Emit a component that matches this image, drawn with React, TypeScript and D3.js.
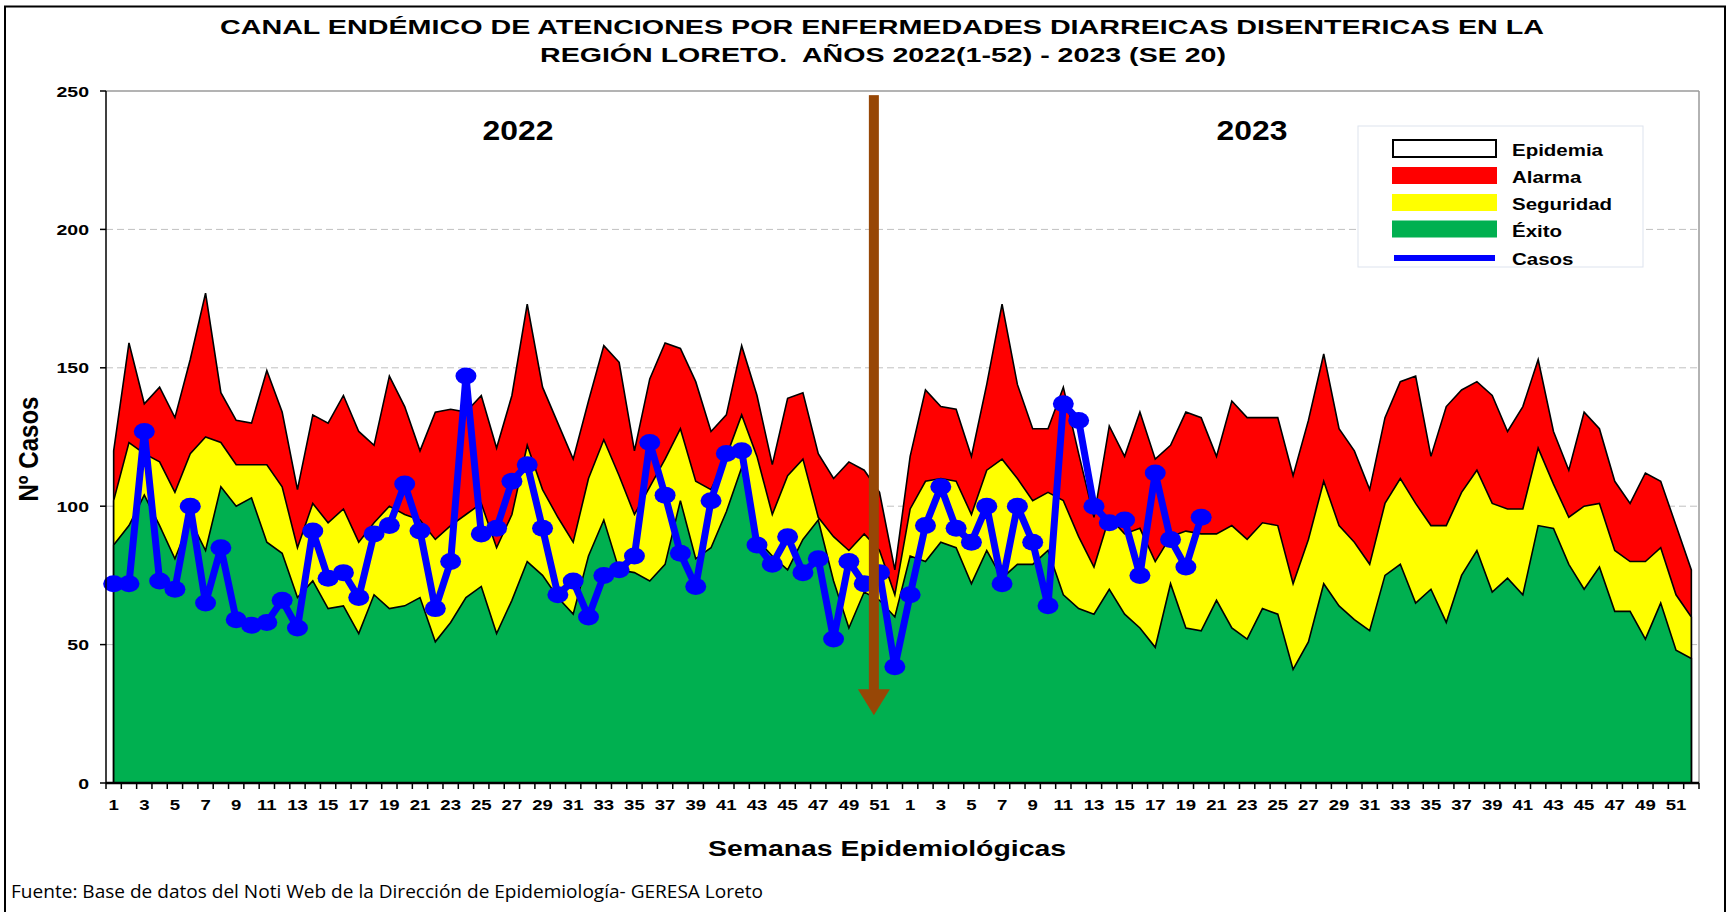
import React from 'react';
import * as d3 from 'd3';

const years = ['2022', '2023'];
const weeks = Array.from({ length: 52 }, (_, i) => i + 1);
const categories = years.flatMap((yr) => weeks.map((w) => `${yr}-${w}`));
const weekOfCategory = years.flatMap(() => weeks);

const alarma = [
  120, 159, 137, 143, 132, 153, 177, 141, 131, 130, 149, 134, 106, 133, 130, 140, 127, 122, 147, 136,
  120, 134, 135, 134, 140, 121, 140, 173, 143, 130, 117, 138, 158, 152, 120, 146, 159, 157, 145, 127,
  133, 158, 140, 115, 139, 141, 119, 110, 116, 113, 105, 77,
  118, 142, 136, 135, 118, 144, 173, 144, 128, 128, 143, 119, 96, 129, 118, 134, 117, 122,
  134, 132, 118, 138, 132, 132, 132, 111, 131, 155, 128, 120, 106, 132, 145, 147, 118, 136, 142, 145,
  140, 127, 136, 153, 127, 113, 134, 128, 109, 101, 112, 109, 93, 77,
];
const seguridad = [
  102, 123, 119, 116, 105, 119, 125, 123, 115, 115, 115, 107, 85, 101, 94, 99, 87, 94, 100, 97,
  95, 88, 93, 97, 101, 85, 97, 122, 106, 96, 87, 110, 124, 111, 97, 107, 117, 128, 109, 106,
  118, 133, 118, 97, 111, 117, 96, 89, 84, 90, 84, 68,
  99, 109, 110, 109, 97, 113, 117, 110, 102, 105, 102, 89, 78, 96, 90, 92, 80, 89,
  91, 90, 90, 93, 88, 94, 93, 72, 88, 109, 93, 87, 79, 101, 110, 101, 93, 93, 105, 113,
  101, 99, 99, 121, 108, 96, 100, 101, 84, 80, 80, 85, 68, 60,
];
const exito = [
  86, 93, 104, 93, 81, 95, 84, 107, 100, 103, 87, 83, 67, 73, 63, 64, 54, 68, 63, 64,
  67, 51, 58, 67, 71, 54, 66, 80, 75, 67, 61, 82, 95, 77, 76, 73, 79, 102, 81, 85,
  98, 114, 88, 82, 77, 88, 95, 73, 56, 69, 66, 60,
  82, 80, 87, 85, 72, 84, 74, 79, 79, 84, 68, 63, 61, 70, 61, 56, 49, 72,
  56, 55, 66, 56, 52, 63, 61, 41, 51, 72, 64, 59, 55, 75, 79, 65, 70, 58, 75, 84,
  69, 74, 68, 93, 92, 79, 70, 78, 62, 62, 52, 65, 48, 45,
];
const casos = [
  72, 72, 127, 73, 70, 100, 65, 85, 59, 57, 58, 66, 56, 91, 74, 76, 67, 90, 93, 108,
  91, 63, 80, 147, 90, 92, 109, 115, 92, 68, 73, 60, 75, 77, 82, 123, 104, 83, 71, 102,
  119, 120, 86, 79, 89, 76, 81, 52, 80, 72, 76, 42,
  68, 93, 107, 92, 87, 100, 72, 100, 87, 64, 137, 131, 100, 94, 95, 75, 112, 88, 78, 96,
];
const yTicks = [0, 50, 100, 150, 200, 250];
const gridTicks = [50, 100, 150, 200];

const legendItems = [
  { label: 'Epidemia', kind: 'box', fill: '#ffffff' },
  { label: 'Alarma', kind: 'rect', fill: '#ff0000' },
  { label: 'Seguridad', kind: 'rect', fill: '#ffff00' },
  { label: 'Éxito', kind: 'rect', fill: '#00b050' },
  { label: 'Casos', kind: 'line', fill: '#0000ff' },
];

const FONT = '"Liberation Sans", Arial, sans-serif';

function SText(props: any) {
  const { x, y, sx = 1.28, size, anchor = 'start', weight = 'bold', children, fill = '#000' } = props;
  return (
    <text
      transform={`translate(${x},${y}) scale(${sx},1)`}
      fontFamily={FONT}
      fontSize={size}
      fontWeight={weight}
      textAnchor={anchor}
      fill={fill}
    >
      {children}
    </text>
  );
}

export default function App() {
  const W = 1727;
  const H = 912;
  const left = 106;
  const right = 1699;
  const top = 91;
  const bottom = 783;

  const x = d3.scaleBand<string>().domain(categories).range([left, right]).padding(0);
  const bw = x.bandwidth();
  const cx = (i: number) => (x(categories[i]) as number) + bw / 2;
  const y = d3.scaleLinear().domain([0, 250]).range([bottom, top]);

  const areaGen = d3
    .area<number>()
    .x((_, i) => cx(i))
    .y0(y(0))
    .y1((d) => y(d));
  const lineGen = d3
    .line<number>()
    .x((_, i) => cx(i))
    .y((d) => y(d));

  const arrowX = (x(categories[50]) as number) + 2;
  const arrowTop = y(248.5);
  const arrowTip = y(24.5);
  const headTop = arrowTip - 26;

  const legX = 1358;
  const legY = 126;
  const rowY = [150, 177, 204, 230.5, 259];

  return (
    <svg
      width={W}
      height={H}
      viewBox={`0 0 ${W} ${H}`}
      style={{ position: 'absolute', left: 0, top: 0, background: '#fff' }}
    >
      <rect x={0} y={0} width={W} height={H} fill="#fff" />
      {/* outer frame */}
      <path d={`M5,${H + 5} V6.5 H1725 V${H + 5}`} fill="none" stroke="#000" strokeWidth={2} />

      {/* title */}
      <text x={882} y={34} textAnchor="middle" fontFamily={FONT} fontWeight="bold" fontSize={21}
        textLength={1324} lengthAdjust="spacingAndGlyphs">
        CANAL ENDÉMICO DE ATENCIONES POR ENFERMEDADES DIARREICAS DISENTERICAS EN LA
      </text>
      <text x={883} y={62} textAnchor="middle" fontFamily={FONT} fontWeight="bold" fontSize={21}
        textLength={686} lengthAdjust="spacingAndGlyphs" xmlSpace="preserve">
        REGIÓN LORETO.  AÑOS 2022(1-52) - 2023 (SE 20)
      </text>

      {/* gridlines */}
      {gridTicks.map((t) => (
        <line key={t} x1={left} x2={right} y1={y(t)} y2={y(t)} stroke="#c0c0c0" strokeWidth={1} strokeDasharray="7 4" />
      ))}
      <line x1={left} x2={right} y1={y(250)} y2={y(250)} stroke="#9a9a9a" strokeWidth={1.5} />
      <line x1={right} x2={right} y1={y(250)} y2={y(0)} stroke="#9a9a9a" strokeWidth={1.5} />

      {/* areas */}
      <path d={areaGen(alarma) as string} fill="#ff0000" stroke="#000" strokeWidth={1.6} strokeLinejoin="miter" />
      <path d={areaGen(seguridad) as string} fill="#ffff00" stroke="#000" strokeWidth={1.6} strokeLinejoin="miter" />
      <path d={areaGen(exito) as string} fill="#00b050" stroke="#000" strokeWidth={1.6} strokeLinejoin="miter" />

      {/* casos */}
      <path d={lineGen(casos) as string} fill="none" stroke="#0000ff" strokeWidth={7} strokeLinejoin="round" />
      {casos.map((v, i) => (
        <ellipse key={i} cx={cx(i)} cy={y(v)} rx={10.5} ry={8.5} fill="#0000ff" />
      ))}

      {/* axes */}
      <line x1={left} x2={left} y1={y(250)} y2={y(0)} stroke="#000" strokeWidth={1.5} />
      {yTicks.map((t) => (
        <g key={t}>
          <line x1={left - 6} x2={left} y1={y(t)} y2={y(t)} stroke="#000" strokeWidth={1.5} />
          <SText x={89} y={y(t) + 5.5} size={15} anchor="end" sx={1.3}>
            {t}
          </SText>
        </g>
      ))}
      <line x1={left} x2={right} y1={y(0)} y2={y(0)} stroke="#000" strokeWidth={2.5} />
      {categories.map((c) => (
        <line key={c} x1={x(c) as number} x2={x(c) as number} y1={y(0)} y2={y(0) + 6} stroke="#000" strokeWidth={1.5} />
      ))}
      <line x1={right} x2={right} y1={y(0)} y2={y(0) + 6} stroke="#000" strokeWidth={1.5} />
      {categories.map((c, i) =>
        weekOfCategory[i] % 2 === 1 ? (
          <SText key={c} x={cx(i)} y={810} size={15.5} anchor="middle" sx={1.2}>
            {weekOfCategory[i]}
          </SText>
        ) : null
      )}

      {/* year labels */}
      <SText x={518} y={140} size={27} anchor="middle" sx={1.18}>
        {years[0]}
      </SText>
      <SText x={1252} y={140} size={27} anchor="middle" sx={1.18}>
        {years[1]}
      </SText>

      {/* arrow */}
      <rect x={arrowX - 5} y={arrowTop} width={10} height={headTop - arrowTop + 1} fill="#974706" />
      <path
        d={`M${arrowX - 16},${headTop} L${arrowX + 16},${headTop} L${arrowX},${arrowTip} Z`}
        fill="#974706"
      />

      {/* legend */}
      <rect x={legX} y={legY} width={285} height={141} fill="#fff" stroke="#dde3ee" strokeWidth={1} />
      {legendItems.map((it, k) => (
        <g key={it.label}>
          {it.kind === 'box' && (
            <rect x={1393} y={rowY[k] - 10} width={103} height={17} fill="#fff" stroke="#000" strokeWidth={2} />
          )}
          {it.kind === 'rect' && (
            <rect x={1392} y={rowY[k] - 10} width={105} height={17} fill={it.fill} />
          )}
          {it.kind === 'line' && (
            <line x1={1394} x2={1495} y1={rowY[k] - 1} y2={rowY[k] - 1} stroke={it.fill} strokeWidth={6} />
          )}
          <SText x={1512} y={rowY[k] + 6} size={16} sx={1.28}>
            {it.label}
          </SText>
        </g>
      ))}

      {/* axis titles */}
      <text x={887} y={856} textAnchor="middle" fontFamily={FONT} fontWeight="bold" fontSize={22}
        textLength={358} lengthAdjust="spacingAndGlyphs">
        Semanas Epidemiológicas
      </text>
      <text transform="translate(38,449) rotate(-90)" textAnchor="middle" fontFamily={FONT} fontWeight="bold"
        fontSize={28} textLength={105} lengthAdjust="spacingAndGlyphs">
        Nº Casos
      </text>

      {/* source */}
      <text x={11} y={898} fontFamily='"Open Sans", sans-serif' fontSize={18.5}
        textLength={752} lengthAdjust="spacingAndGlyphs">
        Fuente: Base de datos del Noti Web de la Dirección de Epidemiología- GERESA Loreto
      </text>
    </svg>
  );
}
